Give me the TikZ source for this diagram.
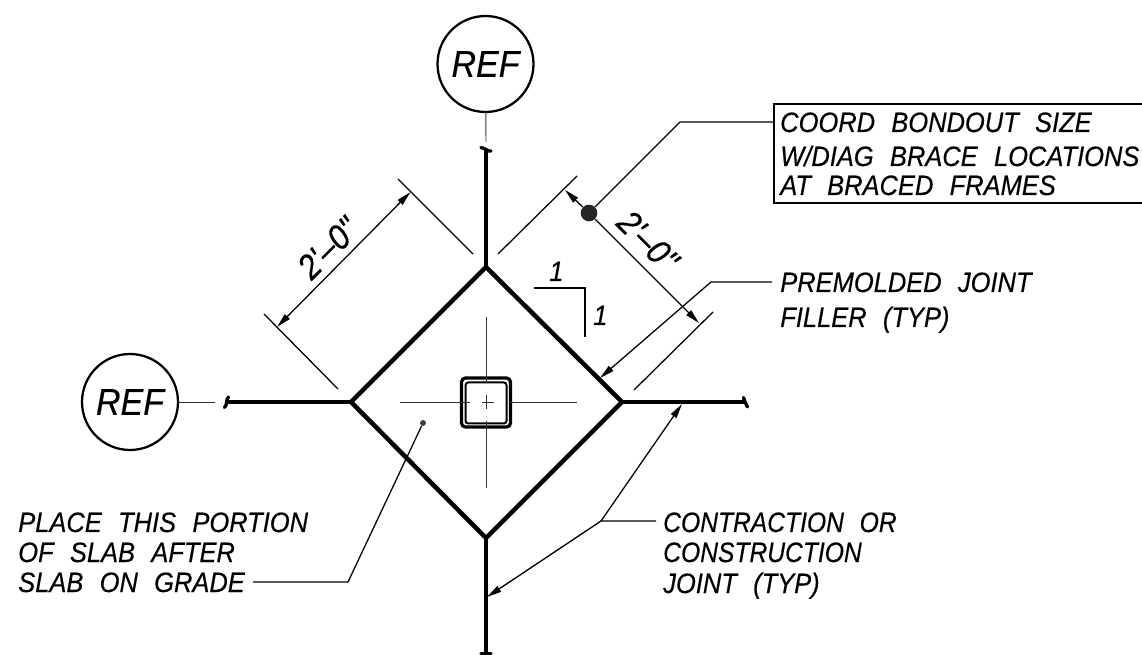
\documentclass[tikz,border=0pt]{standalone}
\usepackage{fontspec}
\usetikzlibrary{arrows.meta}
\newfontfamily\cadfont[WordSpace=2.3,FakeStretch=0.91,FakeBold=0.35]{Liberation Sans Italic}
\newfontfamily\cadnarrow[WordSpace=2.3,FakeStretch=0.88,FakeBold=0.35]{Liberation Sans Italic}
\tikzset{
  thinline/.style={line width=0.7pt,black!80},
  leader/.style={line width=0.95pt},
  joint/.style={line width=2.6pt},
  slab/.style={line width=3.4pt,line join=miter},
  tickmark/.style={line width=2.5pt,line cap=round},
  arr/.style={-{Triangle[length=11pt,width=5pt]}},
  lbl/.style={anchor=base west,inner sep=0pt,font=\cadfont\fontsize{21}{24}\selectfont},
  lblnarrow/.style={lbl,font=\cadnarrow\fontsize{21}{24}\selectfont},
  dim/.style={inner sep=0pt,font=\cadfont\fontsize{26}{30}\selectfont},
  tag/.style={circle,draw,line width=1.7pt,minimum size=72pt,inner sep=0pt,font=\cadfont\fontsize{28}{30}\selectfont}
}
\begin{document}
\begin{tikzpicture}[x=0.75pt,y=-0.75pt]
\useasboundingbox (0,0) rectangle (1142,655);
% key points
\coordinate (dT) at (486,267);
\coordinate (dL) at (351,402);
\coordinate (dR) at (622,402);
\coordinate (dB) at (486,538);
\coordinate (tT) at (486,150);
\coordinate (tL) at (226,402);
\coordinate (tR) at (745,402);
\coordinate (tB) at (486,652);
% reference bubbles
\node[tag] (refT) at (485.5,64) {REF};
\node[tag] (refL) at (130,402) {REF};
\coordinate (gT) at (486,142);
\coordinate (gL) at (215,402);
\draw[thinline] (refT) -- (gT);
\draw[thinline] (refL) -- (gL);
% joints
\draw[joint] (dT) -- (tT);
\draw[joint] (dL) -- (tL);
\draw[joint] (dR) -- (tR);
\draw[joint] (dB) -- (tB);
\draw[tickmark] (481,147.5) .. controls (484,147.5) and (488,152) .. (491,151);
\draw[tickmark] (228.5,397) .. controls (225.5,400) and (228,404) .. (224.5,407.5);
\draw[tickmark] (743.5,397.5) .. controls (745,401) and (745,404) .. (747.5,407);
\draw[tickmark] (481,653.5) -- (491,653.5);
% slab diamond
\draw[slab] (dT) -- (dR) -- (dB) -- (dL) -- cycle;
% column
\draw[line width=2.4pt,rounded corners=3pt] (461.5,378) rectangle (510.5,427);
\draw[line width=1.5pt,rounded corners=2pt] (465.5,382.5) rectangle (506.5,423.5);
% centre lines
\draw[thinline] (400,402.5) -- (470,402.5) (482,402.5) -- (494,402.5) (510,402.5) -- (577,402.5);
\draw[thinline] (486,317) -- (486,383) (486,395) -- (486,409) (486,421) -- (486,488);
% left dimension
\coordinate (e1a) at (398,179); \coordinate (e1b) at (473,254);
\coordinate (e2a) at (264,314); \coordinate (e2b) at (338,389);
\coordinate (d1a) at (410.5,192); \coordinate (d1b) at (277,327);
\draw[leader] (e1a) -- (e1b);
\draw[leader] (e2a) -- (e2b);
\draw[leader,{Triangle[length=11pt,width=5pt]}-{Triangle[length=11pt,width=5pt]}] (d1b) -- (d1a);
\node[dim,rotate=45] (lenL) at (328,248) {2'–0"};
% right dimension
\coordinate (e3a) at (498,254); \coordinate (e3b) at (577,176);
\coordinate (e4a) at (634,390); \coordinate (e4b) at (713,312);
\coordinate (d2a) at (565,190); \coordinate (d2b) at (699,323);
\draw[leader] (e3a) -- (e3b);
\draw[leader] (e4a) -- (e4b);
\node[circle,fill=black!85,minimum size=12.5pt,inner sep=0pt] (dot) at (589,213) {};
\draw[leader,arr] (dot) -- (d2a);
\draw[leader,arr] (dot) -- (d2b);
\node[dim,rotate=-45] (lenR) at (648,241) {2'–0"};
% note box
\coordinate (bx) at (774,122);
\coordinate (bk) at (680,122);
\draw[line width=1.9pt] (1143,104) -- (774,104) -- (774,203) -- (1143,203);
\draw[leader] (dot) -- (bk) -- (bx);
\node[lbl] (n1) at (780,132) {COORD BONDOUT SIZE};
\node[lbl] (n2) at (780,166) {W/DIAG BRACE LOCATIONS};
\node[lbl] (n3) at (780,195) {AT BRACED FRAMES};
% slope
\coordinate (s1) at (534,288); \coordinate (s2) at (585,288); \coordinate (s3) at (585,337);
\draw[leader] (s1) -- (s2) -- (s3);
\node[lbl] (sl1) at (549,281) {1};
\node[lbl] (sl2) at (593,325) {1};
% premolded leader
\coordinate (p0) at (772,282); \coordinate (p1) at (711,282); \coordinate (p2) at (600,378);
\draw[leader,arr] (p0) -- (p1) -- (p2);
\node[lbl] (n4) at (780,292) {PREMOLDED JOINT};
\node[lbl] (n5) at (780,327) {FILLER (TYP)};
% contraction leader
\coordinate (c0) at (656,521); \coordinate (c1) at (601,521);
\coordinate (c2) at (682,404); \coordinate (c3) at (487,597);
\draw[leader,arr] (c0) -- (c1) -- (c2);
\draw[leader,arr] (c1) -- (c3);
\node[lblnarrow] (n6) at (663,532) {CONTRACTION OR};
\node[lblnarrow] (n7) at (663,562) {CONSTRUCTION};
\node[lbl] (n8) at (663,593) {JOINT (TYP)};
% place leader
\node[circle,fill=black!75,minimum size=4.5pt,inner sep=0pt] (pd) at (423,423) {};
\coordinate (q0) at (253,582); \coordinate (q1) at (348,582);
\draw[leader] (q0) -- (q1) -- (pd);
\node[lbl] (n9) at (18,532) {PLACE THIS PORTION};
\node[lbl] (n10) at (18,562) {OF SLAB AFTER};
\node[lbl] (n11) at (18,592) {SLAB ON GRADE};
\end{tikzpicture}
\end{document}
